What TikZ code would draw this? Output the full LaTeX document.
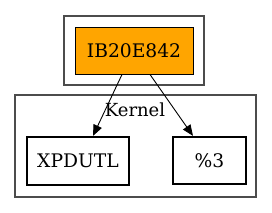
\documentclass[tikz,border=0pt]{standalone}
\usepackage{fontspec}
\setmainfont{DejaVu Serif}
\usetikzlibrary{arrows.meta}
\definecolor{gvorange}{HTML}{FFA500}
\begin{document}
\begin{tikzpicture}[x=1pt,y=-1pt,
  cluster/.style={draw=black!70,line width=1.3pt},
  orangebox/.style={draw=black,line width=1pt,fill=gvorange,rectangle,inner sep=0pt,font=\fontsize{18.7}{22}\selectfont},
  thickbox/.style={draw=black,line width=2.2pt,rectangle,inner sep=0pt,font=\fontsize{18.7}{22}\selectfont},
  arr/.style={draw=black,line width=0.9pt,-{Triangle[length=11pt,width=9pt]}},
  lbl/.style={font=\fontsize{18}{22}\selectfont,inner sep=0pt}]
\useasboundingbox (0,0) rectangle (272,212);
\draw[cluster] (64,16) rectangle (204,85);
\draw[cluster] (15,95) rectangle (256,197);
\node[orangebox,minimum width=118pt,minimum height=47pt] (ib) at (134,50.5) {IB20E842};
\node[thickbox,minimum width=102pt,minimum height=48pt] (xp) at (78,161) {XPDUTL};
\node[thickbox,minimum width=73pt,minimum height=47pt] (p3) at (209.5,160.5) {\%3};
\node[lbl] (kl) at (135,110) {Kernel};
\draw[arr] ([xshift=-12pt]ib.south) -- ([xshift=15pt]xp.north);
\draw[arr] ([xshift=16pt]ib.south) -- ([xshift=-16.5pt]p3.north);
\end{tikzpicture}
\end{document}
